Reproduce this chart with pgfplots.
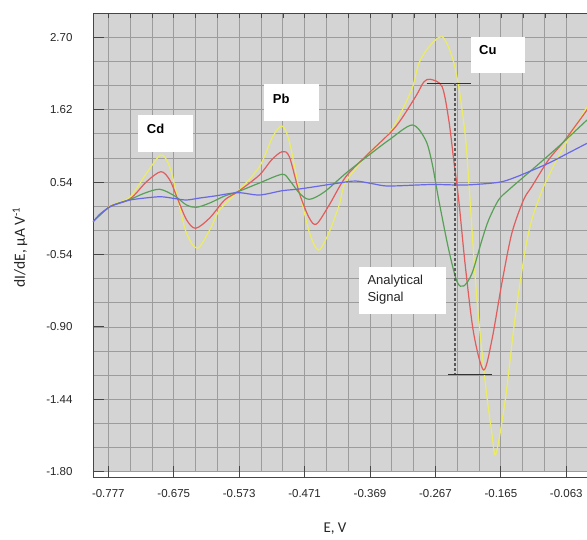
\documentclass[border=0pt]{standalone}
\usepackage{fontspec}
\setmainfont{Liberation Sans}
\newfontfamily\carlito{Carlito}
\usepackage{pgfplots}
\pgfplotsset{compat=1.18}
\definecolor{bg}{RGB}{212,212,212}
\definecolor{gridc}{RGB}{156,156,156}
\definecolor{frame}{RGB}{70,70,70}
\definecolor{cyel}{RGB}{236,236,96}
\definecolor{cred}{RGB}{226,92,92}
\definecolor{cgrn}{RGB}{88,160,88}
\definecolor{cblu}{RGB}{104,104,232}

\begin{document}
\begin{tikzpicture}
\path[use as bounding box] (0,0) rectangle (587pt,539pt);
\begin{axis}[
  at={(93pt,67.3pt)}, anchor=south west,
  width=494pt, height=458.7pt, scale only axis,
  xmin=-0.8009, xmax=-0.0307, ymin=0, ymax=6.336,
  axis background/.style={fill=bg},
  axis x line*=bottom, axis y line*=left,
  axis x line shift=5.3pt,
  axis line style={draw=frame, line width=0.9pt, -},
  xtick={-0.777,-0.675,-0.573,-0.471,-0.369,-0.267,-0.165,-0.063},
  xticklabels={-0.777,-0.675,-0.573,-0.471,-0.369,-0.267,-0.165,-0.063},
  ytick={0,1,2,3,4,5,6},
  yticklabels={-1.80,-1.44,-0.90,-0.54,0.54,1.62,2.70},
  minor x tick num=2, minor y tick num=2,
  grid=both,
  major grid style={draw=gridc, line width=0.8pt},
  minor grid style={draw=gridc, line width=0.8pt},
  tick align=inside, major tick length=11pt, minor tick length=0pt,
  tick style={draw=frame, line width=0.9pt},
  tick label style={font=\fontsize{11.5}{13}\selectfont, text=black!85},
  xticklabel style={yshift=-9pt},
  yticklabel style={xshift=-17pt},
  every axis plot/.append style={line width=1.2pt, smooth},
]
% yellow
\addplot[cyel] coordinates {
(-0.8008,3.453)(-0.7744,3.670)(-0.7433,3.794)(-0.7174,4.123)(-0.6951,4.374)
(-0.6812,4.209)(-0.6683,3.753)(-0.6552,3.297)(-0.6381,3.086)(-0.6190,3.338)
(-0.6035,3.615)(-0.5751,3.867)(-0.5414,4.213)(-0.5207,4.627)(-0.5061,4.775)
(-0.4948,4.560)(-0.4792,3.891)(-0.4637,3.311)(-0.4492,3.062)(-0.4326,3.311)
(-0.4171,3.684)(-0.4067,4.006)(-0.3705,4.398)(-0.3394,4.674)(-0.3239,4.903)
(-0.3032,5.300)(-0.2928,5.641)(-0.2773,5.866)(-0.2566,6.008)(-0.2411,5.732)
(-0.2307,5.318)(-0.2203,4.627)(-0.2152,4.029)(-0.2110,3.476)(-0.2023,2.372)
(-0.1892,1.221)(-0.1790,0.530)(-0.1728,0.244)(-0.1582,0.990)(-0.1426,2.141)
(-0.1271,3.062)(-0.1169,3.476)(-0.1064,3.753)(-0.0960,3.983)(-0.0754,4.351)
(-0.0547,4.674)(-0.0307,5.041)};
% red
\addplot[cred] coordinates {
(-0.8008,3.453)(-0.7744,3.663)(-0.7433,3.767)(-0.7174,4.006)(-0.6951,4.144)
(-0.6812,4.029)(-0.6683,3.753)(-0.6548,3.476)(-0.6408,3.362)(-0.6190,3.504)
(-0.5957,3.753)(-0.5751,3.867)(-0.5414,4.098)(-0.5227,4.305)(-0.5061,4.420)
(-0.4948,4.351)(-0.4792,3.849)(-0.4637,3.504)(-0.4524,3.421)(-0.4326,3.684)
(-0.4067,4.075)(-0.3705,4.402)(-0.3290,4.765)(-0.2980,5.180)(-0.2851,5.383)
(-0.2747,5.420)(-0.2566,5.318)(-0.2462,4.858)(-0.2385,4.305)(-0.2307,3.753)
(-0.2203,2.831)(-0.2074,1.912)(-0.1919,1.405)(-0.1790,1.819)(-0.1635,2.602)
(-0.1479,3.293)(-0.1297,3.753)(-0.1169,3.936)(-0.0909,4.305)(-0.0650,4.582)
(-0.0307,4.996)};
% green
\addplot[cgrn] coordinates {
(-0.8008,3.453)(-0.7744,3.660)(-0.7433,3.760)(-0.7200,3.849)(-0.6967,3.901)
(-0.6734,3.808)(-0.6552,3.684)(-0.6397,3.652)(-0.6190,3.711)(-0.5957,3.808)
(-0.5751,3.867)(-0.5414,3.988)(-0.5061,4.108)(-0.4948,4.029)(-0.4792,3.849)
(-0.4637,3.762)(-0.4404,3.863)(-0.4067,4.122)(-0.3705,4.374)(-0.3394,4.582)
(-0.3032,4.789)(-0.2824,4.582)(-0.2722,4.260)(-0.2618,3.753)(-0.2462,3.062)
(-0.2333,2.624)(-0.2229,2.565)(-0.2100,2.740)(-0.1945,3.200)(-0.1841,3.476)
(-0.1686,3.753)(-0.1530,3.891)(-0.1169,4.167)(-0.0754,4.489)(-0.0307,4.858)};
% blue
\addplot[cblu] coordinates {
(-0.8008,3.453)(-0.7899,3.559)(-0.7744,3.660)(-0.7588,3.711)(-0.7433,3.753)
(-0.7200,3.780)(-0.6951,3.798)(-0.6734,3.773)(-0.6552,3.753)(-0.6346,3.780)
(-0.6113,3.808)(-0.5751,3.854)(-0.5414,3.822)(-0.5061,3.881)(-0.4792,3.905)
(-0.4482,3.946)(-0.4171,3.988)(-0.3912,4.015)(-0.3627,3.974)(-0.3394,3.946)
(-0.2726,3.967)(-0.2203,3.960)(-0.1686,3.997)(-0.1453,4.057)(-0.1271,4.122)
(-0.0909,4.260)(-0.0598,4.402)(-0.0307,4.536)};
\end{axis}
\begin{scope}[x=1pt, y=-1pt, shift={(0pt,539pt)}]
  % top frame with short ticks, left axis down to the shifted x axis
  \draw[frame, line width=0.9pt] (93,13) -- (587,13);
  \foreach \k in {0,...,21}
    \draw[frame, line width=0.8pt] ({108.3+21.83*\k},13) -- ++(0,5);
  \draw[frame, line width=0.9pt] (93,471.2) -- (93,477.3);
  % element labels
  \fill[white] (138,115) rectangle (193,152);
  \node[anchor=west, inner sep=0, font=\bfseries\fontsize{13}{15}\selectfont]
    at (146.7,129.3) {Cd};
  \fill[white] (264,84) rectangle (319,121);
  \node[anchor=west, inner sep=0, font=\bfseries\fontsize{13}{15}\selectfont]
    at (272.7,99) {Pb};
  \fill[white] (470.7,36.7) rectangle (525.3,72.7);
  \node[anchor=west, inner sep=0, font=\bfseries\fontsize{13}{15}\selectfont]
    at (479,50) {Cu};
  % analytical signal
  \draw[black!80, line width=1.2pt] (426.7,83.3) -- (470.7,83.3);
  \draw[black!65, line width=1.2pt, dash pattern=on 3pt off 2pt]
    (455,83.3) -- (455,374.3);
  \draw[black!80, line width=1.2pt] (448.3,374.3) -- (491.7,374.3);
  \fill[white] (359,266.7) rectangle (446,314);
  \node[anchor=base west, inner sep=0, font=\fontsize{13}{15}\selectfont,
    text=black!85] at (367.3,285) {Analytical};
  \node[anchor=base west, inner sep=0, font=\fontsize{13}{15}\selectfont,
    text=black!85] at (367.3,302) {Signal};
  % axis titles
  \node[font=\carlito\fontsize{15}{17}\selectfont, text=black!85]
    at (335,529) {E, V};
  \node[rotate=90, font=\carlito\fontsize{15.5}{17}\selectfont, text=black!85]
    at (20,247.5) {dI/dE, μA V\textsuperscript{-1}};
\end{scope}
\end{tikzpicture}
\end{document}
